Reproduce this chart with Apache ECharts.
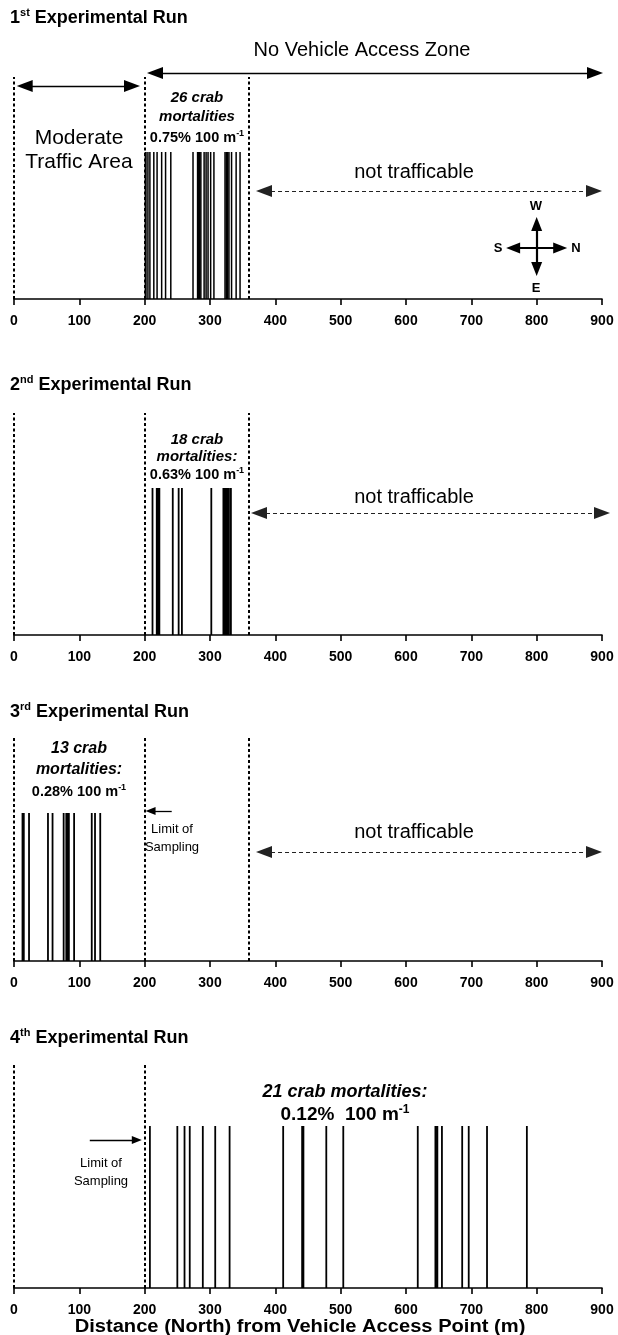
<!DOCTYPE html>
<html>
<head>
<meta charset="utf-8">
<script src="https://cdn.jsdelivr.net/npm/echarts@6/dist/echarts.min.js"></script>
<style>
  html, body { margin: 0; padding: 0; background: #fff; }
  #chart { width: 618px; height: 1335px; }
</style>
</head>
<body>
<div id="chart"></div>
<script>
// distance ticks (m)
const xTicks = [0, 100, 200, 300, 400, 500, 600, 700, 800, 900];

// crab mortality positions (m north of access point)
const run1 = [201, 202, 205, 208, 214, 219, 226, 232, 240, 274, 281, 282.5, 284, 286, 291,
              294, 297, 301, 306, 323, 325, 327, 329, 333, 340, 346];
const run2 = [212, 218.5, 219.5, 221, 222.5, 243, 252, 257, 302, 320.5, 321.5, 322.5, 324,
              325, 326.5, 327.5, 329, 332];
const run3 = [13, 15, 23, 52, 59, 76, 80, 82, 84, 92, 119, 124, 132];
const run4 = [208, 250, 261, 269, 289, 308, 330, 412, 441, 443, 478, 504, 618, 645, 646,
              648, 655, 686, 696, 724, 785];

// zone boundaries (m)
const zoneLines = [[0, 200, 360], [0, 200, 360], [0, 200, 360], [0, 200]];

const runs = [run1, run2, run3, run4];
const titles = ['st', 'nd', 'rd', 'th'];

const FONT = '"Liberation Sans", Arial, sans-serif';

// layout of the four panels (pixel top of grid, pixel y of axis)
const panels = [
  { top: 60, axisY: 299, barH: 147, dashTop: 222, barW: 1.5 },
  { top: 400, axisY: 635, barH: 147, dashTop: 222, barW: 1.8 },
  { top: 725, axisY: 961, barH: 148, dashTop: 223, barW: 1.8 },
  { top: 1050, axisY: 1288, barH: 162, dashTop: 225, barW: 1.8 }
];

const chart = echarts.init(document.getElementById('chart'), null, { renderer: 'canvas' });

const dashV = { color: '#000', width: 2, type: [3, 2.5] };
const solid = { color: '#000', width: 1.3, type: 'solid' };
const dashH = { color: '#222', width: 1, type: [4, 3] };
const cross = { color: '#000', width: 2.2, type: 'solid' };

function seg(x1, y1, x2, y2, style, head1, head2) {
  const a = { coord: [x1, y1], lineStyle: style, symbol: head1 ? 'triangle' : 'none', symbolSize: head1 || 1 };
  const b = { coord: [x2, y2], lineStyle: style, symbol: head2 ? 'triangle' : 'none', symbolSize: head2 || 1 };
  return [a, b];
}

const big = [12, 16];
const small = [8, 10];
const comp = [11, 14];

const extraLines = [
  [
    seg(215.8, 226, 889.3, 226, solid, big, big),
    seg(16.4, 213, 180.6, 213, solid, big, big),
    seg(382.7, 108, 887.8, 108, dashH, big, big),
    seg(764, 51, 836, 51, cross, comp, comp),
    seg(800, 30, 800, 75, cross, comp, comp)
  ],
  [
    seg(375, 122, 900, 122, dashH, big, big)
  ],
  [
    seg(241.4, 150, 209, 150, solid, null, small),
    seg(382.7, 109, 887.8, 109, dashH, big, big)
  ],
  [
    seg(116, 148, 188, 148, solid, null, small)
  ]
];

const grids = [], xAxes = [], yAxes = [], series = [];
panels.forEach((p, i) => {
  const h = p.axisY - p.top;
  grids.push({ left: 14, right: 16, top: p.top, height: h });
  xAxes.push({
    type: 'value', gridIndex: i,
    min: xTicks[0], max: xTicks[xTicks.length - 1], interval: xTicks[1] - xTicks[0],
    axisLine: { show: true, lineStyle: { color: '#000', width: 1.6 } },
    axisTick: { show: true, length: 6, lineStyle: { color: '#000', width: 1.6 } },
    splitLine: { show: false },
    axisLabel: { color: '#000', fontFamily: FONT, fontWeight: 'bold', fontSize: 14, margin: 15 }
  });
  yAxes.push({ type: 'value', gridIndex: i, min: 0, max: h, show: false });

  series.push({
    type: 'custom', xAxisIndex: i, yAxisIndex: i, silent: true,
    data: runs[i].map(d => [d, p.barH]),
    renderItem: function (params, api) {
      const p0 = api.coord([api.value(0), 0]);
      const p1 = api.coord([api.value(0), api.value(1)]);
      return {
        type: 'rect',
        shape: { x: p0[0] - p.barW / 2, y: p1[1], width: p.barW, height: p0[1] - p1[1] },
        style: { fill: '#000' }
      };
    }
  });

  const lines = zoneLines[i].map(z => seg(z, 0, z, p.dashTop, dashV, null, null)).concat(extraLines[i]);
  series.push({
    type: 'scatter', xAxisIndex: i, yAxisIndex: i, data: [], silent: true,
    markLine: {
      silent: true, symbol: ['none', 'none'], animation: false,
      label: { show: false }, emphasis: { disabled: true },
      data: lines
    }
  });
});

function txt(x, y, text, font, opts) {
  const style = Object.assign({
    text: text, x: x, y: y, fill: '#000', font: font,
    align: 'center', verticalAlign: 'middle', textAlign: 'center', textVerticalAlign: 'middle'
  }, opts || {});
  return { type: 'text', silent: true, z: 100, style: style };
}

const regular = '20px ' + FONT;
const boldIt = 'italic bold 15px ' + FONT;
const titleRich = {
  a: { fontFamily: FONT, fontWeight: 'bold', fontSize: 18, lineHeight: 22, fill: '#000' },
  s: { fontFamily: FONT, fontWeight: 'bold', fontSize: 11, lineHeight: 11, verticalAlign: 'top', fill: '#000' }
};
function rateRich(size) {
  return {
    t: { fontFamily: FONT, fontWeight: 'bold', fontSize: size, lineHeight: size + 4, fill: '#000' },
    s: { fontFamily: FONT, fontWeight: 'bold', fontSize: Math.round(size * 0.65), lineHeight: Math.round(size * 0.65), verticalAlign: 'top', fill: '#000' }
  };
}
function title(y, n, sup) {
  return txt(10, y, '{a|' + n + '}{s|' + sup + '}{a| Experimental Run}', null,
    { rich: titleRich, align: 'left', textAlign: 'left' });
}
function rate(x, y, v, size) {
  return txt(x, y, '{t|' + v + ' 100 m}{s|-1}', null, { rich: rateRich(size || 14.5) });
}

// axis title is drawn a little wider than the font, as in the original figure
const xTitle = txt(0, 0, 'Distance (North) from Vehicle Access Point (m)', 'bold 17.5px ' + FONT);
xTitle.x = 300;
xTitle.y = 1327;
xTitle.scaleX = 1.15;

const graphics = [
  title(18, 1, titles[0]),
  txt(362, 50, 'No Vehicle Access Zone', regular),
  txt(197, 98, '26 crab', boldIt),
  txt(197, 117, 'mortalities', boldIt),
  rate(197, 138, '0.75%'),
  txt(79, 138, 'Moderate', '21px ' + FONT),
  txt(79, 162, 'Traffic Area', '21px ' + FONT),
  txt(414, 172, 'not trafficable', regular),
  txt(536, 206, 'W', 'bold 13px ' + FONT),
  txt(536, 288, 'E', 'bold 13px ' + FONT),
  txt(498, 248, 'S', 'bold 13px ' + FONT),
  txt(576, 248, 'N', 'bold 13px ' + FONT),

  title(385, 2, titles[1]),
  txt(197, 440, '18 crab', boldIt),
  txt(197, 457, 'mortalities:', boldIt),
  rate(197, 475, '0.63%'),
  txt(414, 497, 'not trafficable', regular),

  title(712, 3, titles[2]),
  txt(79, 749, '13 crab', 'italic bold 16px ' + FONT),
  txt(79, 770, 'mortalities:', 'italic bold 16px ' + FONT),
  rate(79, 792, '0.28%'),
  txt(172, 829, 'Limit of', '13px ' + FONT),
  txt(172, 847, 'Sampling', '13px ' + FONT),
  txt(414, 832, 'not trafficable', regular),

  title(1038, 4, titles[3]),
  txt(345, 1092, '21 crab mortalities:', 'italic bold 18px ' + FONT),
  txt(345, 1115, '{t|0.12%  100 m}{s|-1}', null, { rich: rateRich(19) }),
  txt(101, 1163, 'Limit of', '13px ' + FONT),
  txt(101, 1181, 'Sampling', '13px ' + FONT),

  xTitle
];

chart.setOption({
  animation: false,
  backgroundColor: '#fff',
  grid: grids,
  xAxis: xAxes,
  yAxis: yAxes,
  series: series,
  graphic: graphics
});
</script>
</body>
</html>
